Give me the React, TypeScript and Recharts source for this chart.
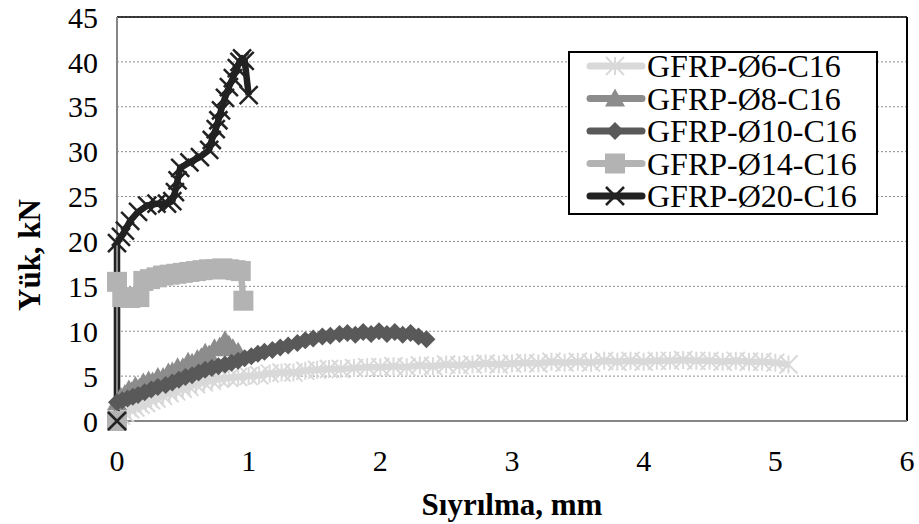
import { CartesianGrid, Legend, Line, LineChart, ReferenceLine, XAxis, YAxis } from "recharts";

const fontFamily = '"Liberation Serif", "Times New Roman", serif';

const xTicks = [0, 1, 2, 3, 4, 5, 6];
const yTicks = [0, 5, 10, 15, 20, 25, 30, 35, 40, 45];

// [slip mm, load kN]
const phi6: [number, number][] = [
  [0, 0.3], [0.03, 0.6], [0.06, 0.9], [0.1, 1.3], [0.14, 1.5], [0.18, 1.8], [0.22, 2.0], [0.26, 2.3],
  [0.3, 2.5], [0.35, 2.8], [0.4, 3.1], [0.45, 3.3], [0.5, 3.6], [0.55, 3.8], [0.6, 4.1], [0.66, 4.3],
  [0.72, 4.5], [0.78, 4.7], [0.85, 4.8], [0.92, 4.9], [1.0, 5.0], [1.08, 5.1], [1.16, 5.3], [1.25, 5.4],
  [1.34, 5.4], [1.43, 5.6], [1.52, 5.7], [1.61, 5.8], [1.7, 5.8], [1.8, 5.9], [1.9, 6.0], [2.0, 6.0],
  [2.1, 6.1], [2.2, 6.0], [2.3, 6.2], [2.4, 6.1], [2.5, 6.3], [2.6, 6.2], [2.7, 6.3], [2.8, 6.4],
  [2.9, 6.3], [3.0, 6.4], [3.1, 6.5], [3.2, 6.4], [3.3, 6.6], [3.4, 6.5], [3.5, 6.6], [3.6, 6.5],
  [3.7, 6.7], [3.8, 6.6], [3.9, 6.7], [4.0, 6.6], [4.1, 6.7], [4.2, 6.7], [4.3, 6.8], [4.4, 6.7],
  [4.5, 6.7], [4.6, 6.6], [4.7, 6.7], [4.8, 6.6], [4.9, 6.6], [5.0, 6.5], [5.1, 6.3],
];

const phi8: [number, number][] = [
  [0, 2.1], [0.03, 2.7], [0.06, 3.0], [0.09, 3.5], [0.11, 3.3], [0.14, 3.9], [0.17, 3.7], [0.2, 4.3],
  [0.24, 4.5], [0.27, 4.4], [0.31, 4.9], [0.35, 4.9], [0.39, 5.4], [0.42, 5.5], [0.46, 6.0], [0.5, 6.0],
  [0.54, 6.6], [0.57, 6.5], [0.61, 6.9], [0.64, 7.1], [0.67, 7.6], [0.7, 7.4], [0.74, 8.1], [0.78, 8.3],
  [0.82, 9.0], [0.85, 8.5], [0.88, 8.1], [0.92, 7.7],
];

const phi10: [number, number][] = [
  [0, 2.1], [0.04, 2.3], [0.08, 2.5], [0.12, 2.7], [0.16, 2.9], [0.21, 3.2], [0.26, 3.5], [0.31, 3.8],
  [0.37, 4.0], [0.42, 4.3], [0.47, 4.6], [0.52, 4.9], [0.57, 5.1], [0.62, 5.4], [0.67, 5.7], [0.72, 5.9],
  [0.77, 6.1], [0.82, 6.3], [0.87, 6.5], [0.92, 6.7], [0.97, 7.0], [1.02, 7.2], [1.07, 7.5], [1.12, 7.7],
  [1.18, 7.9], [1.24, 8.2], [1.3, 8.4], [1.37, 8.7], [1.43, 9.0], [1.49, 9.2], [1.56, 9.4], [1.62, 9.5],
  [1.69, 9.7], [1.75, 9.8], [1.81, 9.6], [1.87, 9.9], [1.93, 9.7], [1.99, 10.0], [2.05, 9.7], [2.11, 9.9],
  [2.17, 9.6], [2.23, 9.8], [2.29, 9.4], [2.35, 9.1],
];

const phi14: [number, number][] = [
  [0, 0], [0, 15.5], [0.04, 13.8], [0.1, 13.7], [0.17, 13.8], [0.2, 15.6], [0.25, 15.8], [0.3, 16.0],
  [0.35, 16.2], [0.4, 16.3], [0.45, 16.4], [0.5, 16.5], [0.55, 16.6], [0.6, 16.7], [0.65, 16.8],
  [0.7, 16.9], [0.75, 16.9], [0.8, 17.0], [0.85, 16.9], [0.9, 16.8], [0.94, 16.7], [0.96, 13.4],
];

const phi20: [number, number][] = [
  [0, 0], [0, 19.8], [0.03, 20.5], [0.06, 21.2], [0.1, 22.3], [0.16, 23.3], [0.23, 24.0], [0.3, 24.2],
  [0.38, 24.2], [0.42, 24.5], [0.44, 25.5], [0.46, 26.8], [0.48, 28.2], [0.55, 28.8], [0.63, 29.4],
  [0.7, 30.2], [0.72, 31.3], [0.75, 32.5], [0.77, 33.5], [0.79, 34.6], [0.82, 36.0], [0.85, 37.2],
  [0.88, 38.2], [0.91, 39.3], [0.93, 40.0], [0.95, 40.4], [0.97, 40.1], [1.0, 36.3],
];

type Shape = "star" | "triangle" | "diamond" | "square" | "cross";

const series: { name: string; color: string; shape: Shape; points: [number, number][] }[] = [
  { name: "GFRP-Ø6-C16", color: "#d9d9d9", shape: "star", points: phi6 },
  { name: "GFRP-Ø8-C16", color: "#8c8c8c", shape: "triangle", points: phi8 },
  { name: "GFRP-Ø10-C16", color: "#595959", shape: "diamond", points: phi10 },
  { name: "GFRP-Ø14-C16", color: "#b3b3b3", shape: "square", points: phi14 },
  { name: "GFRP-Ø20-C16", color: "#222222", shape: "cross", points: phi20 },
];

const Marker = ({ cx, cy, shape, color }: { cx?: number; cy?: number; shape: Shape; color: string }) => {
  if (cx == null || cy == null) return <g />;
  switch (shape) {
    case "star": {
      const r = 9;
      return (
        <path
          d={`M${cx} ${cy - r}V${cy + r}M${cx - r} ${cy - r}L${cx + r} ${cy + r}M${cx - r} ${cy + r}L${cx + r} ${cy - r}`}
          stroke={color}
          strokeWidth={2}
          fill="none"
        />
      );
    }
    case "triangle":
      return <polygon points={`${cx},${cy - 10} ${cx + 10},${cy + 8} ${cx - 10},${cy + 8}`} fill={color} />;
    case "diamond":
      return <polygon points={`${cx},${cy - 9} ${cx + 9},${cy} ${cx},${cy + 9} ${cx - 9},${cy}`} fill={color} />;
    case "square":
      return <rect x={cx - 10} y={cy - 10} width={20} height={20} fill={color} />;
    default: {
      const r = 9;
      return (
        <path
          d={`M${cx - r} ${cy - r}L${cx + r} ${cy + r}M${cx - r} ${cy + r}L${cx + r} ${cy - r}`}
          stroke={color}
          strokeWidth={2.5}
          fill="none"
        />
      );
    }
  }
};

const renderLegend = () => (
  <div
    style={{
      boxSizing: "border-box",
      width: 310,
      height: 164,
      border: "2px solid #000",
      background: "#fff",
    }}
  >
    <svg width={306} height={160} style={{ overflow: "visible", display: "block" }}>
      {series.map((s, i) => {
        const cy = 13 + i * 32.5;
        return (
          <g key={s.name}>
            <line x1={20} x2={72} y1={cy} y2={cy} stroke={s.color} strokeWidth={7} strokeLinecap="round" />
            <Marker cx={45} cy={cy} shape={s.shape} color={s.color} />
            <text x={77} y={cy + 11} fontFamily={fontFamily} fontSize={32} fill="#000">
              {s.name}
            </text>
          </g>
        );
      })}
    </svg>
  </div>
);

const YTitle = () => (
  <text
    x={40}
    y={255}
    transform="rotate(-90 40 255)"
    textAnchor="middle"
    fontFamily={fontFamily}
    fontSize={31}
    fontWeight="bold"
    fill="#000"
  >
    Yük, kN
  </text>
);

export default function App() {
  return (
    <div style={{ position: "absolute", left: 0, top: 0, width: 919, height: 524, background: "#fff" }}>
      <LineChart width={919} height={524} margin={{ top: 17, right: 12, bottom: 0, left: 0 }}>
        <CartesianGrid vertical={false} stroke="#8c8c8c" strokeDasharray="2 2" />
        <XAxis
          type="number"
          dataKey="x"
          domain={[0, 6]}
          ticks={xTicks}
          interval={0}
          height={103}
          tickLine={false}
          tickSize={0}
          tickMargin={29}
          axisLine={{ stroke: "#868686", strokeWidth: 2 }}
          tick={{ fontFamily, fontSize: 30, fill: "#000" }}
          label={{
            value: "Sıyrılma, mm",
            position: "insideBottom",
            offset: 9,
            style: { fontFamily, fontSize: 31, fontWeight: "bold", fill: "#000" },
          }}
        />
        <YAxis
          type="number"
          dataKey="y"
          domain={[0, 45]}
          ticks={yTicks}
          interval={0}
          width={117}
          tickLine={false}
          tickSize={0}
          tickMargin={19}
          axisLine={{ stroke: "#868686", strokeWidth: 2 }}
          tick={{ fontFamily, fontSize: 30, fill: "#000" }}
          label={{ content: () => <YTitle /> }}
        />
        <ReferenceLine y={45} stroke="#000" strokeWidth={1.5} />
        <ReferenceLine x={6} stroke="#000" strokeWidth={2} />
        {series.map((s) => (
          <Line
            key={s.name}
            name={s.name}
            data={s.points.map(([x, y]) => ({ x, y }))}
            dataKey="y"
            type="linear"
            stroke={s.color}
            strokeWidth={6.5}
            strokeLinejoin="round"
            isAnimationActive={false}
            activeDot={false}
            dot={(p: any) => (
              <Marker key={`${s.name}-${p.index}`} cx={p.cx} cy={p.cy} shape={s.shape} color={s.color} />
            )}
          />
        ))}
        <Legend
          layout="vertical"
          align="center"
          verticalAlign="middle"
          content={renderLegend}
          wrapperStyle={{ left: 568, top: 51, width: 310, height: 164 }}
        />
      </LineChart>
    </div>
  );
}
